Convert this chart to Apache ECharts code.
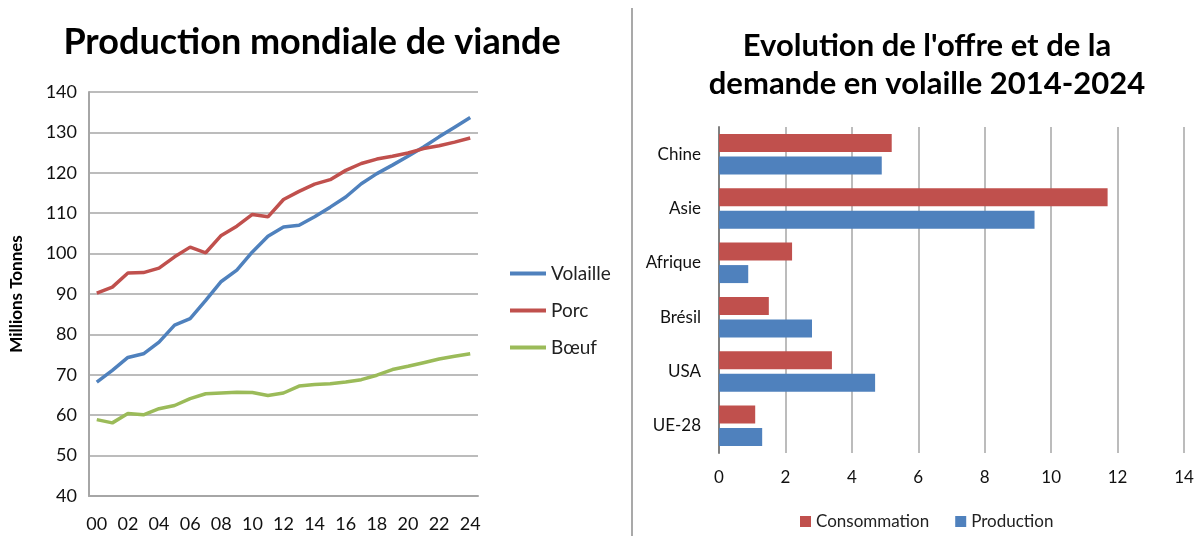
<!DOCTYPE html>
<html>
<head>
<meta charset="utf-8">
<script src="https://cdn.jsdelivr.net/npm/echarts@6/dist/echarts.min.js"></script>
<style>
  html, body { margin: 0; padding: 0; background: #fff; }
  #main { width: 1202px; height: 540px; }
</style>
</head>
<body>
<div id="main"></div>
<script>
// left chart : world meat production (millions tonnes)
const years = ['00','01','02','03','04','05','06','07','08','09','10','11','12',
  '13','14','15','16','17','18','19','20','21','22','23','24']
const volaille = [68.2, 71.1, 74.3, 75.2, 78.1, 82.3, 83.9, 88.4, 93.1, 95.9, 100.4, 104.3, 106.6,
  107.0, 109.1, 111.5, 114.0, 117.3, 119.8, 121.9, 124.1, 126.4, 128.9, 131.3, 133.7]
const porc = [90.2, 91.7, 95.2, 95.3, 96.4, 99.2, 101.6, 100.2, 104.5, 106.8, 109.7, 109.1, 113.4,
  115.4, 117.2, 118.3, 120.6, 122.3, 123.4, 124.1, 124.9, 126.0, 126.7, 127.6, 128.6]
const boeuf = [58.9, 58.1, 60.4, 60.1, 61.6, 62.4, 64.1, 65.3, 65.5, 65.7, 65.6, 64.9, 65.5,
  67.2, 67.6, 67.8, 68.2, 68.8, 69.9, 71.3, 72.1, 73.0, 73.9, 74.6, 75.2]

// right chart : poultry supply / demand 2014-2024
const regions = ['UE-28', 'USA', 'Brésil', 'Afrique', 'Asie', 'Chine']
const consommation = [1.09, 3.4, 1.5, 2.2, 11.7, 5.2]
const production = [1.3, 4.7, 2.8, 0.88, 9.5, 4.9]

const BLUE = '#4F81BD', RED = '#C0504D', GREEN = '#9BBB59'
const FONT = 'Lato'
const grey = '#a6a6a6'

const myChart = echarts.init(document.getElementById('main'))
const option = {
  textStyle: { fontFamily: FONT },
  animation: false,
  title: [
    {
      text: 'Production mondiale de viande',
      left: 307, top: 19, textAlign: 'center',
      textStyle: { fontSize: 36, fontWeight: 'bold', color: '#000', fontFamily: FONT }
    },
    {
      text: "Evolution de l'offre et de la\ndemande en volaille 2014-2024",
      left: 922, top: 22, textAlign: 'center',
      textStyle: { fontSize: 31, fontWeight: 'bold', color: '#000', lineHeight: 38, fontFamily: FONT }
    }
  ],
  legend: [
    {
      data: ['Volaille', 'Porc', 'Bœuf'],
      orient: 'vertical',
      left: 505, top: 259,
      icon: 'rect', itemWidth: 36, itemHeight: 4, itemGap: 18,
      textStyle: { fontSize: 19, color: '#222', fontFamily: FONT }
    },
    {
      data: ['Consommation', 'Production'],
      left: 795, top: 508,
      icon: 'rect', itemWidth: 11, itemHeight: 11, itemGap: 26,
      textStyle: { fontSize: 17, color: '#222', fontFamily: FONT }
    }
  ],
  grid: [
    { left: 89, top: 92, width: 389, height: 404 },
    { left: 719, top: 127, width: 465, height: 326 }
  ],
  xAxis: [
    {
      gridIndex: 0, type: 'category', data: years, boundaryGap: true,
      axisLine: { lineStyle: { color: grey, width: 2 } },
      axisTick: { show: false },
      axisLabel: { interval: 1, fontSize: 18, color: '#111', margin: 19 }
    },
    {
      gridIndex: 1, type: 'value', min: 0, max: 14, interval: 2,
      axisLine: { show: false },
      axisTick: { show: false },
      splitLine: { lineStyle: { color: grey, width: 1.5 } },
      axisLabel: { fontSize: 17, color: '#111', margin: 16 }
    }
  ],
  yAxis: [
    {
      gridIndex: 0, type: 'value', min: 40, max: 140, interval: 10,
      name: 'Millions Tonnes', nameLocation: 'middle', nameGap: 64, nameRotate: 90,
      nameTextStyle: { fontSize: 17, fontWeight: 'bold', color: '#000', fontFamily: FONT },
      axisLine: { show: true, lineStyle: { color: grey, width: 2 } },
      axisTick: { show: false },
      splitLine: { lineStyle: { color: grey, width: 1.5 } },
      axisLabel: { fontSize: 18, color: '#111', margin: 12 }
    },
    {
      gridIndex: 1, type: 'category', data: regions,
      axisLine: { show: true, lineStyle: { color: '#808080', width: 2 } },
      axisTick: { show: false },
      axisLabel: { fontSize: 17, color: '#111', margin: 18 }
    }
  ],
  series: [
    { name: 'Volaille', type: 'line', xAxisIndex: 0, yAxisIndex: 0, data: volaille,
      showSymbol: false, color: BLUE, lineStyle: { width: 3.5 } },
    { name: 'Porc', type: 'line', xAxisIndex: 0, yAxisIndex: 0, data: porc,
      showSymbol: false, color: RED, lineStyle: { width: 3.5 } },
    { name: 'Bœuf', type: 'line', xAxisIndex: 0, yAxisIndex: 0, data: boeuf,
      showSymbol: false, color: GREEN, lineStyle: { width: 3.5 } },
    { name: 'Consommation', type: 'bar', xAxisIndex: 1, yAxisIndex: 1, data: consommation,
      color: RED, barWidth: 18, barGap: '25%' },
    { name: 'Production', type: 'bar', xAxisIndex: 1, yAxisIndex: 1, data: production,
      color: BLUE, barWidth: 18, barGap: '25%' }
  ],
  graphic: [
    { type: 'line', shape: { x1: 632, y1: 8, x2: 632, y2: 536 },
      style: { stroke: '#8c8c8c', lineWidth: 1.5 } }
  ]
}
option && myChart.setOption(option)
</script>
</body>
</html>
